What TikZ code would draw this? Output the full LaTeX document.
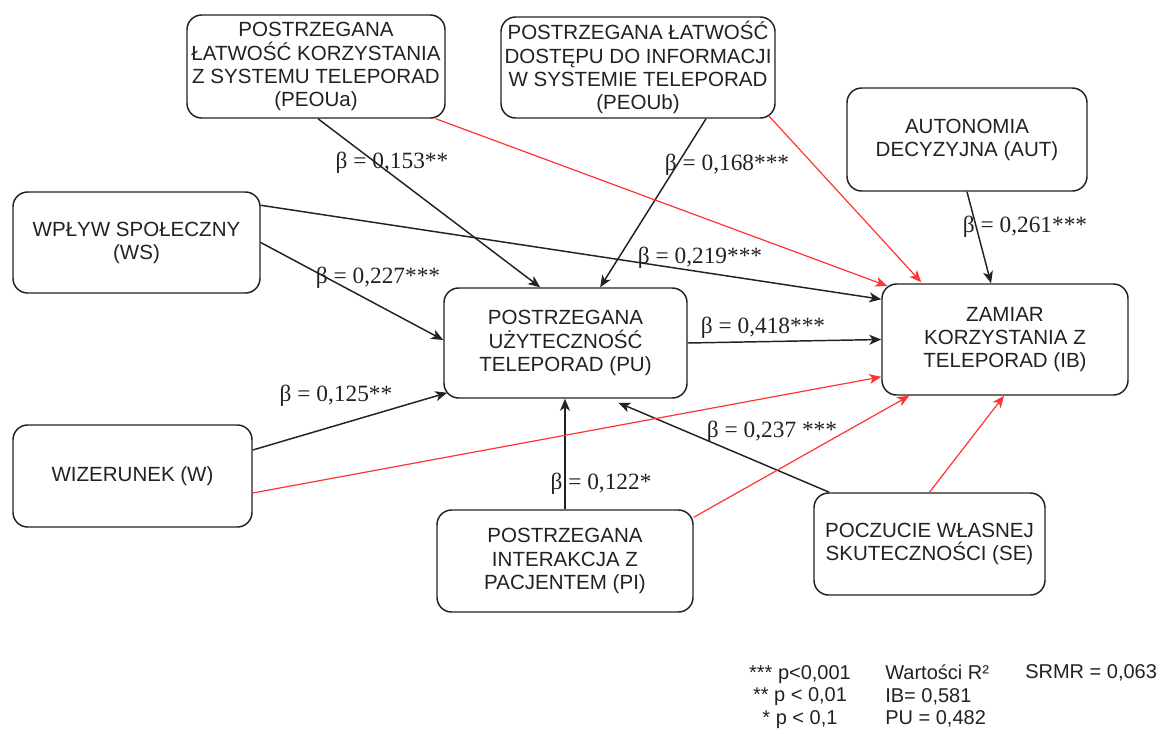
\documentclass[tikz,border=0pt]{standalone}
\usepackage{fontspec}
\setmainfont{Liberation Sans}
\newfontfamily\coeffont{Liberation Serif}
\usetikzlibrary{arrows.meta,calc}
\definecolor{ink}{RGB}{34,34,34}
\definecolor{redpath}{RGB}{255,51,51}
\begin{document}
\begin{tikzpicture}[x=0.75pt,y=-0.75pt,
  box/.style={draw=ink, line width=1.1pt, rounded corners=11pt, fill=white,
    align=center, inner sep=0pt, text=ink,
    font=\fontsize{15.4}{17.3}\selectfont},
  link/.style={draw=ink, line width=1.1pt,
    -{Stealth[length=9pt,width=7.5pt,inset=2.5pt]}},
  redlink/.style={link, draw=redpath, line width=0.9pt,
    -{Stealth[length=9pt,width=7.5pt,inset=2.5pt,fill=redpath]}},
  coef/.style={inner sep=0pt, text=ink, font=\coeffont\fontsize{17.5}{20}\selectfont},
  legend/.style={inner sep=0pt, text=ink, font=\fontsize{15}{16.9}\selectfont}]

\useasboundingbox (0,0) rectangle (1161,733);

% constructs
\node[box, minimum width=193.5pt, minimum height=77.25pt] (PEOUa) at (316,66.5)
  {POSTRZEGANA\\ŁATWOŚĆ KORZYSTANIA\\Z SYSTEMU TELEPORAD\\(PEOUa)};
\node[box, minimum width=205.5pt, minimum height=75.75pt] (PEOUb) at (638,67.5)
  {POSTRZEGANA ŁATWOŚĆ\\DOSTĘPU DO INFORMACJI\\W SYSTEMIE TELEPORAD\\(PEOUb)};
\node[box, minimum width=180pt, minimum height=77.25pt] (AUT) at (967,139.5)
  {AUTONOMIA\\DECYZYJNA (AUT)};
\node[box, minimum width=185.25pt, minimum height=75.75pt] (WS) at (136.5,242.5)
  {WPŁYW SPOŁECZNY\\(WS)};
\node[box, minimum width=182.25pt, minimum height=82.5pt] (PU) at (565.5,343)
  {POSTRZEGANA\\UŻYTECZNOŚĆ\\TELEPORAD (PU)};
\node[box, minimum width=184.5pt, minimum height=83.25pt] (IB) at (1005,339.5)
  {\raisebox{6pt}{\begin{tabular}{@{}c@{}}ZAMIAR\\KORZYSTANIA Z\\TELEPORAD (IB)\end{tabular}}};
\node[box, minimum width=179.25pt, minimum height=76.5pt] (W) at (132.5,476)
  {WIZERUNEK (W)};
\node[box, minimum width=192pt, minimum height=76.5pt] (PI) at (565,561)
  {POSTRZEGANA\\INTERAKCJA Z\\PACJENTEM (PI)};
\node[box, minimum width=173.25pt, minimum height=76.5pt] (SE) at (929.5,544)
  {POCZUCIE WŁASNEJ\\SKUTECZNOŚCI (SE)};

% paths to perceived usefulness
\draw[link] ([xshift=1.5pt]PEOUa.south) -- ([xshift=-19pt]PU.north);
\draw[link] ([xshift=51pt]PEOUb.south) -- ([xshift=26pt]PU.north);
\draw[link] (WS.east) -- ([yshift=2.25pt]PU.west);
\draw[link] ([yshift=19.5pt]W.east) -- ([xshift=3pt,yshift=4.5pt]PU.south west);
\draw[link] (PI.north) -- (PI.north |- PU.south);
\draw[link] ([xshift=12pt]SE.north west) -- ([xshift=-52pt,yshift=-3pt]PU.south east);

% paths to intention
\draw[link] (PU.east) -- (IB.west);
\draw[link] ([yshift=-10.5pt]WS.north east) -- ([yshift=-12pt]IB.north west);
\draw[link] (AUT.south) -- ([xshift=-10.5pt]IB.north);

% non-significant paths
\draw[redlink] ([xshift=-7.5pt]PEOUa.south east) -- ([xshift=4.5pt,yshift=-2pt]IB.north west);
\draw[redlink] ([xshift=-5.25pt,yshift=2.25pt]PEOUb.south east) -- ([xshift=30pt,yshift=0.75pt]IB.north west);
\draw[redlink] ([yshift=-12.75pt]W.east) -- ([yshift=-28pt]IB.west);
\draw[redlink] ([yshift=-6pt]PI.north east) -- ([xshift=21pt]IB.south west);
\draw[redlink] (SE.north) -- ([xshift=-0.75pt]IB.south);

% path coefficients
\node[coef] (c1) at (392,163) {β = 0,153**};
\node[coef] (c2) at (727,165) {β = 0,168***};
\node[coef] (c3) at (700,258) {β = 0,219***};
\node[coef] (c4) at (378,278) {β = 0,227***};
\node[coef] (c5) at (763,328) {β = 0,418***};
\node[coef] (c6) at (336,396) {β = 0,125**};
\node[coef] (c7) at (601,484) {β = 0,122*};
\node[coef] (c8) at (772,432) {β = 0,237 ***};
\node[coef] (c9) at (1025,227) {β = 0,261***};

% legend
\node[legend, align=center] (sig) at (800,697)
  {*** p<0,001\\** p < 0,01\\* p < 0,1};
\node[legend, align=left, anchor=west] (rsq) at (885,696)
  {Wartości R²\\IB= 0,581\\PU = 0,482};
\node[legend, anchor=west] (srmr) at (1025,673) {SRMR = 0,063};
\end{tikzpicture}
\end{document}
